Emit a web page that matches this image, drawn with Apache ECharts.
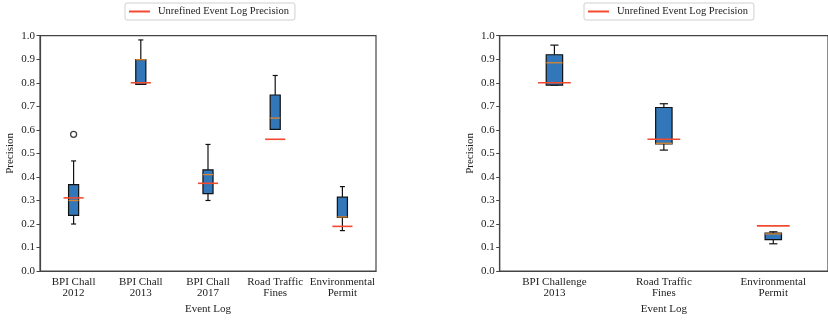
<!DOCTYPE html>
<html>
<head>
<meta charset="utf-8">
<script src="https://cdn.jsdelivr.net/npm/echarts@6/dist/echarts.min.js"></script>
<style>
html,body{margin:0;padding:0;background:#fff;}
#chart{width:828px;height:320px;}
</style>
</head>
<body>
<div id="chart"></div>
<script>
// ---- Data ----
const leftCategories = ['BPI Chall\n2012', 'BPI Chall\n2013', 'BPI Chall\n2017', 'Road Traffic\nFines', 'Environmental\nPermit'];
const leftMin    = [0.200, 0.793, 0.300, 0.602, 0.172];
const leftQ1     = [0.237, 0.793, 0.329, 0.602, 0.228];
const leftMedian = [0.300, 0.898, 0.410, 0.650, 0.230];
const leftQ3     = [0.367, 0.898, 0.430, 0.748, 0.314];
const leftMax    = [0.468, 0.982, 0.538, 0.831, 0.359];
const leftUnrefined = [0.311, 0.800, 0.373, 0.560, 0.190];
const leftOutliers = [[0, 0.581]];

const rightCategories = ['BPI Challenge\n2013', 'Road Traffic\nFines', 'Environmental\nPermit'];
const rightMin    = [0.790, 0.514, 0.116];
const rightQ1     = [0.790, 0.540, 0.134];
const rightMedian = [0.885, 0.543, 0.158];
const rightQ3     = [0.919, 0.695, 0.161];
const rightMax    = [0.960, 0.711, 0.167];
const rightUnrefined = [0.800, 0.560, 0.192];

const yTicks = [0, 0.1, 0.2, 0.3, 0.4, 0.5, 0.6, 0.7, 0.8, 0.9, 1.0];
const legendName = 'Unrefined Event Log Precision';
const xName = 'Event Log';
const yName = 'Precision';

// ---- Styles ----
const FONT = "'Liberation Serif', 'DejaVu Serif', serif";
const AXIS_COLOR = '#444';
const TEXT_COLOR = '#222';
const BOX_FILL = '#3277b9';
const MEDIAN_COLOR = '#dc852c';
const RED = '#f24b2f';

function boxData(mins, q1s, meds, q3s, maxs) {
  return mins.map((m, i) => [i, m, q1s[i], meds[i], q3s[i], maxs[i]]);
}
function lineData(vals) { return vals.map((v, i) => [i, v]); }

function renderBox(params, api) {
  const c = api.value(0);
  const band = api.size([1, 0])[0];
  const bw = band * 0.15;
  const cw = bw * 0.5;
  const pMin = api.coord([c, api.value(1)]);
  const pQ1 = api.coord([c, api.value(2)]);
  const pMed = api.coord([c, api.value(3)]);
  const pQ3 = api.coord([c, api.value(4)]);
  const pMax = api.coord([c, api.value(5)]);
  const x = pMin[0];
  const lineStyle = { stroke: '#111', lineWidth: 1.2, fill: null };
  return {
    type: 'group',
    children: [
      { type: 'line', shape: { x1: x, y1: pMin[1], x2: x, y2: pQ1[1] }, style: lineStyle },
      { type: 'line', shape: { x1: x, y1: pQ3[1], x2: x, y2: pMax[1] }, style: lineStyle },
      { type: 'line', shape: { x1: x - cw / 2, y1: pMin[1], x2: x + cw / 2, y2: pMin[1] }, style: lineStyle },
      { type: 'line', shape: { x1: x - cw / 2, y1: pMax[1], x2: x + cw / 2, y2: pMax[1] }, style: lineStyle },
      { type: 'rect', shape: { x: x - bw / 2, y: pQ3[1], width: bw, height: pQ1[1] - pQ3[1] },
        style: { fill: BOX_FILL, stroke: '#111', lineWidth: 1.2 } },
      { type: 'line', shape: { x1: x - bw / 2, y1: pMed[1], x2: x + bw / 2, y2: pMed[1] },
        style: { stroke: MEDIAN_COLOR, lineWidth: 1.3 } }
    ]
  };
}

function renderRed(params, api) {
  const c = api.value(0);
  const band = api.size([1, 0])[0];
  const w = band * 0.3;
  const p = api.coord([c, api.value(1)]);
  return {
    type: 'line',
    shape: { x1: p[0] - w / 2, y1: p[1], x2: p[0] + w / 2, y2: p[1] },
    style: { stroke: RED, lineWidth: 1.6 }
  };
}

function xAxisCfg(gridIndex, cats) {
  return {
    type: 'category', gridIndex, data: cats,
    boundaryGap: true,
    name: xName, nameLocation: 'middle', nameGap: 31,
    nameTextStyle: { fontFamily: FONT, fontSize: 11, color: TEXT_COLOR },
    axisLine: { lineStyle: { color: AXIS_COLOR, width: 1.2 } },
    axisTick: { alignWithLabel: true, length: 3.5, lineStyle: { color: AXIS_COLOR } },
    axisLabel: { fontFamily: FONT, fontSize: 11, color: TEXT_COLOR, margin: 5, lineHeight: 11.5, interval: 0 },
    splitLine: { show: false }
  };
}
function yAxisCfg(gridIndex) {
  return {
    type: 'value', gridIndex, min: yTicks[0], max: yTicks[yTicks.length - 1], interval: 0.1,
    name: yName, nameLocation: 'middle', nameGap: 24, nameRotate: 90,
    nameTextStyle: { fontFamily: FONT, fontSize: 11, color: TEXT_COLOR },
    axisLine: { show: true, lineStyle: { color: AXIS_COLOR, width: 1.2 } },
    axisTick: { show: true, length: 3.5, lineStyle: { color: AXIS_COLOR } },
    axisLabel: { fontFamily: FONT, fontSize: 11, color: TEXT_COLOR, margin: 5,
      formatter: v => v.toFixed(1) },
    splitLine: { show: false }
  };
}
function legendCfg(left) {
  return {
    left, top: 3,
    data: [{ name: legendName, icon: 'rect' }],
    itemWidth: 21, itemHeight: 2, itemGap: 5,
    padding: [3, 6, 3, 4],
    borderColor: '#d0d0d0', borderWidth: 1, borderRadius: 2,
    textStyle: { fontFamily: FONT, fontSize: 10.5, color: TEXT_COLOR, padding: [0, 0, 0, 3] },
    selectedMode: false
  };
}

const chart = echarts.init(document.getElementById('chart'), null, { renderer: 'canvas' });
chart.setOption({
  backgroundColor: '#fff',
  animation: false,
  legend: [legendCfg(125), legendCfg(584)],
  grid: [
    { left: 40, right: 452, top: 35.7, bottom: 46.3, show: true, borderColor: AXIS_COLOR, borderWidth: 1.2 },
    { left: 499.7, right: -7.7, top: 35.7, bottom: 46.3, show: true, borderColor: AXIS_COLOR, borderWidth: 1.2 }
  ],
  xAxis: [xAxisCfg(0, leftCategories), xAxisCfg(1, rightCategories)],
  yAxis: [yAxisCfg(0), yAxisCfg(1)],
  series: [
    { type: 'custom', name: 'boxesLeft', xAxisIndex: 0, yAxisIndex: 0, z: 2,
      renderItem: renderBox, encode: { x: 0, y: [1, 2, 3, 4, 5] },
      data: boxData(leftMin, leftQ1, leftMedian, leftQ3, leftMax) },
    { type: 'custom', name: 'boxesRight', xAxisIndex: 1, yAxisIndex: 1, z: 2,
      renderItem: renderBox, encode: { x: 0, y: [1, 2, 3, 4, 5] },
      data: boxData(rightMin, rightQ1, rightMedian, rightQ3, rightMax) },
    { type: 'scatter', name: 'outliersLeft', xAxisIndex: 0, yAxisIndex: 0, z: 3,
      symbol: 'circle', symbolSize: 6,
      itemStyle: { color: '#fff', borderColor: '#111', borderWidth: 1.3 },
      data: leftOutliers },
    { type: 'custom', name: legendName, xAxisIndex: 0, yAxisIndex: 0, z: 4,
      itemStyle: { color: RED },
      renderItem: renderRed, encode: { x: 0, y: 1 }, data: lineData(leftUnrefined) },
    { type: 'custom', name: legendName, xAxisIndex: 1, yAxisIndex: 1, z: 4,
      itemStyle: { color: RED },
      renderItem: renderRed, encode: { x: 0, y: 1 }, data: lineData(rightUnrefined) }
  ]
});
</script>
</body>
</html>
